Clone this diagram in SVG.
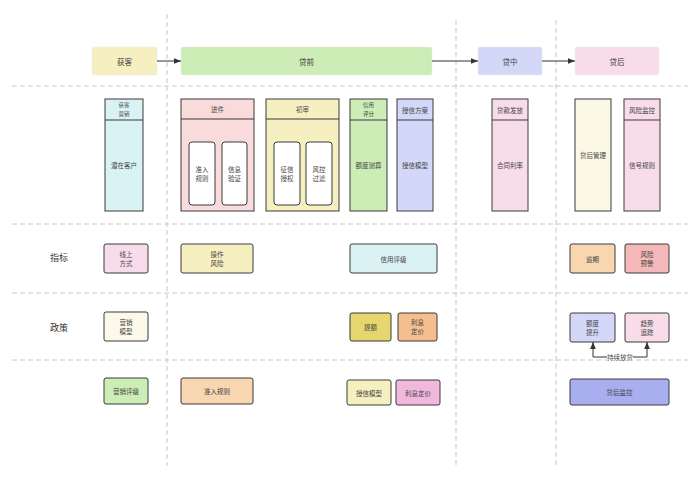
<svg xmlns="http://www.w3.org/2000/svg" width="700" height="481" viewBox="0 0 700 481">
<style>
text{font-family:"Noto Sans CJK SC","Noto Sans",sans-serif;font-size:6.5px;fill:#444;text-anchor:middle;dominant-baseline:central}
.big{font-size:7.5px}
.lbl{font-size:9px;fill:#333}
.sm{font-size:5.5px}
.grid{stroke:#c8c8c8;stroke-width:1;stroke-dasharray:5 3;fill:none}
.b{stroke:#3a3a3a;stroke-width:1}
.top{stroke:#e8e8e8;stroke-width:0.5}
.w{fill:#fff;stroke:#3a3a3a;stroke-width:1}
.c{stroke:#333;stroke-width:1;fill:none}
</style>
<defs>
<marker id="ah" viewBox="0 0 10 10" refX="10" refY="5" markerWidth="7" markerHeight="7" orient="auto"><path d="M0,1 L10,5 L0,9 Z" fill="#333"/></marker>
</defs>
<rect width="700" height="481" fill="#fff"/>
<g id="grid">
<line class="grid" x1="167" y1="14" x2="167" y2="466"/>
<line class="grid" x1="456" y1="20" x2="456" y2="466"/>
<line class="grid" x1="556" y1="20" x2="556" y2="466"/>
<line class="grid" x1="12" y1="86" x2="688" y2="86"/>
<line class="grid" x1="12" y1="224" x2="688" y2="224"/>
<line class="grid" x1="12" y1="293" x2="688" y2="293"/>
<line class="grid" x1="12" y1="360" x2="688" y2="360"/>
</g>
<g id="stage-acq"><rect class="top" x="92" y="47" width="65" height="28" rx="2" fill="#f6efc0"/><text class="big" x="124.5" y="61">获客</text></g>
<g id="stage-pre"><rect class="top" x="181" y="47" width="251" height="28" rx="2" fill="#cdedb6"/><text class="big" x="306.5" y="61">贷前</text></g>
<g id="stage-mid"><rect class="top" x="478" y="47" width="64" height="28" rx="2" fill="#d3d8f9"/><text class="big" x="510" y="61">贷中</text></g>
<g id="stage-post"><rect class="top" x="575" y="47" width="84" height="28" rx="2" fill="#f8dcea"/><text class="big" x="617" y="61">贷后</text></g>

<g id="col-acq">
<rect class="b" x="105" y="99" width="38" height="112" fill="#d9f3f4"/>
<line class="b" x1="105" y1="120" x2="143" y2="120"/>
<text class="sm" x="124" y="105">获客</text><text class="sm" x="124" y="113.5">营销</text>
<text x="124" y="165">潜在客户</text>
</g>
<g id="col-jinjian">
<rect class="b" x="181" y="99" width="73" height="112" fill="#f9dbdb"/>
<line class="b" x1="181" y1="119" x2="254" y2="119"/>
<text x="217.5" y="109">进件</text>
<rect class="w" x="189" y="142" width="26" height="63" rx="3"/>
<text x="202" y="169">准入</text><text x="202" y="178">规则</text>
<rect class="w" x="222" y="142" width="25" height="63" rx="3"/>
<text x="234.5" y="169">信息</text><text x="234.5" y="178">验证</text>
</g>
<g id="col-chushen">
<rect class="b" x="266" y="99" width="73" height="112" fill="#f6efc0"/>
<line class="b" x1="266" y1="119" x2="339" y2="119"/>
<text x="302.5" y="109">初审</text>
<rect class="w" x="274" y="142" width="26" height="63" rx="3"/>
<text x="287" y="169">征信</text><text x="287" y="178">授权</text>
<rect class="w" x="306" y="142" width="26" height="63" rx="3"/>
<text x="319" y="169">风控</text><text x="319" y="178">过滤</text>
</g>
<g id="col-credit">
<rect class="b" x="350" y="99" width="37" height="112" fill="#cdedb6"/>
<line class="b" x1="350" y1="120" x2="387" y2="120"/>
<text class="sm" x="368.5" y="105">信用</text><text class="sm" x="368.5" y="113.5">评分</text>
<text x="368.5" y="165">额度测算</text>
</g>
<g id="col-plan">
<rect class="b" x="397" y="99" width="36" height="112" fill="#d3d8f9"/>
<line class="b" x1="397" y1="120" x2="433" y2="120"/>
<text x="415" y="109.5">授信方案</text>
<text x="415" y="165">授信模型</text>
</g>
<g id="col-loan">
<rect class="b" x="492" y="99" width="36" height="112" fill="#f8dcea"/>
<line class="b" x1="492" y1="120" x2="528" y2="120"/>
<text x="510" y="109.5">贷款发放</text>
<text x="510" y="165">合同利率</text>
</g>
<g id="col-postmgmt">
<rect class="b" x="575" y="99" width="36" height="112" fill="#fbf8e6"/>
<text x="593" y="155">贷后管理</text>
</g>
<g id="col-monitor">
<rect class="b" x="624" y="99" width="36" height="112" fill="#f8dcea"/>
<line class="b" x1="624" y1="120" x2="660" y2="120"/>
<text x="642" y="109.5">风险监控</text>
<text x="642" y="165">信号规则</text>
</g>

<text class="lbl" x="59" y="257">指标</text>
<text class="lbl" x="59" y="327">政策</text>

<g id="m-online"><rect class="b" x="104" y="244" width="44" height="29" rx="2" fill="#f9dceb"/><text x="126" y="254">线上</text><text x="126" y="263">方式</text></g>
<g id="m-oprisk"><rect class="b" x="181" y="244" width="72" height="29" rx="2" fill="#f6efc0"/><text x="217" y="254">操作</text><text x="217" y="263">风险</text></g>
<g id="m-rating"><rect class="b" x="350" y="244" width="87" height="29" rx="2" fill="#dbf3f4"/><text x="393.5" y="258.5">信用评级</text></g>
<g id="m-overdue"><rect class="b" x="570" y="244" width="45" height="29" rx="2" fill="#f7d6b0"/><text x="592.5" y="258.5">逾期</text></g>
<g id="m-warning"><rect class="b" x="625" y="244" width="44" height="29" rx="2" fill="#f4b8b8"/><text x="647" y="254">风险</text><text x="647" y="263">预警</text></g>

<g id="p-mktmodel"><rect class="b" x="104" y="312" width="44" height="29" rx="2" fill="#fcf9ea"/><text x="126" y="322">营销</text><text x="126" y="331">模型</text></g>
<g id="p-raise"><rect class="b" x="350" y="313" width="41" height="28" rx="2" fill="#e5d66f"/><text x="370.5" y="327">提额</text></g>
<g id="p-pricing"><rect class="b" x="398" y="313" width="39" height="28" rx="2" fill="#f5be8f"/><text x="417.5" y="322">利息</text><text x="417.5" y="331">定价</text></g>
<g id="p-lift"><rect class="b" x="570" y="313" width="45" height="29" rx="2" fill="#d3d8f9"/><text x="592.5" y="323">额度</text><text x="592.5" y="332">提升</text></g>
<g id="p-trend"><rect class="b" x="625" y="313" width="44" height="29" rx="2" fill="#f8dcea"/><text x="647" y="323">趋势</text><text x="647" y="332">追踪</text></g>

<g id="b-mktrating"><rect class="b" x="104" y="378" width="44" height="26" rx="2" fill="#cdedb6"/><text x="126" y="391">营销评级</text></g>
<g id="b-access"><rect class="b" x="181" y="378" width="72" height="26" rx="2" fill="#f7d6b0"/><text x="217" y="391">准入规则</text></g>
<g id="b-model"><rect class="b" x="347" y="380" width="44" height="25" rx="2" fill="#f6efc0"/><text x="369" y="392.5">授信模型</text></g>
<g id="b-price"><rect class="b" x="396" y="380" width="44" height="25" rx="2" fill="#f1b8dd"/><text x="418" y="392.5">利息定价</text></g>
<g id="b-postmon"><rect class="b" x="570" y="379" width="99" height="26" rx="2" fill="#a8aef0"/><text x="619.5" y="392">贷后监控</text></g>

<g id="connectors">
<line class="c" x1="157" y1="61" x2="181" y2="61" marker-end="url(#ah)"/>
<line class="c" x1="432" y1="61" x2="478" y2="61" marker-end="url(#ah)"/>
<line class="c" x1="542" y1="61" x2="575" y2="61" marker-end="url(#ah)"/>
<polyline class="c" points="608,357 593,357 593,342" marker-end="url(#ah)"/>
<polyline class="c" points="632,357 647,357 647,342" marker-end="url(#ah)"/>
<rect x="607" y="352" width="26" height="10" fill="#fff"/>
<text x="620" y="357">持续放贷</text>
</g>
</svg>
